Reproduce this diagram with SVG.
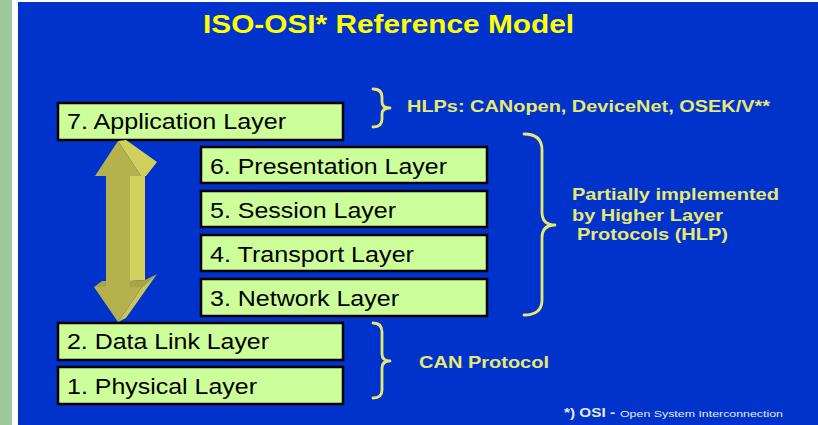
<svg xmlns="http://www.w3.org/2000/svg" width="818" height="425" viewBox="0 0 818 425">
  <style>
    .layer rect { fill: #ccff99; stroke: #000000; stroke-width: 2.5; }
    .layer text { font-family: "Liberation Sans", Arial, sans-serif; font-size: 22px; fill: #000000; }
    .title { font-family: "Liberation Sans", Arial, sans-serif; font-weight: bold; font-size: 25px; fill: #ffff00; }
    .note { font-family: "Liberation Sans", Arial, sans-serif; font-weight: bold; font-size: 17px; fill: #e8e870; }
    .brace { fill: none; stroke: #e8e870; stroke-width: 2.8; stroke-linecap: round; stroke-linejoin: round; }
    .foot { font-family: "Liberation Sans", Arial, sans-serif; fill: #e6e8f4; }
  </style>

  <!-- slide frame -->
  <rect x="0" y="0" width="818" height="425" fill="#ffffff"/>
  <rect x="0" y="0" width="12" height="425" fill="#9dc89a"/>
  <rect x="18" y="2" width="800" height="423" fill="#0033cc"/>

  <text class="title" x="203" y="33" textLength="371" lengthAdjust="spacingAndGlyphs">ISO-OSI* Reference Model</text>

  <!-- layer stack -->
  <g id="layer7" class="layer">
    <rect x="58" y="103" width="285" height="37"/>
    <text x="67" y="129" textLength="219" lengthAdjust="spacingAndGlyphs">7. Application Layer</text>
  </g>
  <g id="layer6" class="layer">
    <rect x="201" y="147" width="286" height="36"/>
    <text x="210" y="174" textLength="237" lengthAdjust="spacingAndGlyphs">6. Presentation Layer</text>
  </g>
  <g id="layer5" class="layer">
    <rect x="201" y="191" width="286" height="36"/>
    <text x="210" y="217.5" textLength="186" lengthAdjust="spacingAndGlyphs">5. Session Layer</text>
  </g>
  <g id="layer4" class="layer">
    <rect x="201" y="235" width="286" height="36"/>
    <text x="210" y="262" textLength="204" lengthAdjust="spacingAndGlyphs">4. Transport Layer</text>
  </g>
  <g id="layer3" class="layer">
    <rect x="201" y="279" width="286" height="37"/>
    <text x="210" y="306" textLength="189" lengthAdjust="spacingAndGlyphs">3. Network Layer</text>
  </g>
  <g id="layer2" class="layer">
    <rect x="58" y="323" width="285" height="37"/>
    <text x="67" y="349" textLength="202" lengthAdjust="spacingAndGlyphs">2. Data Link Layer</text>
  </g>
  <g id="layer1" class="layer">
    <rect x="58" y="367" width="285" height="37"/>
    <text x="67" y="394" textLength="190" lengthAdjust="spacingAndGlyphs">1. Physical Layer</text>
  </g>

  <!-- 3D double arrow between application and data link layer -->
  <g id="connectors">
    <polygon points="118,141 126,140 157,162 146,176 141,176" fill="#d2d05c"/>
    <polygon points="130,176 145,176 145,280 130,281" fill="#d4d25e"/>
    <polygon points="130,287 130,281 145,280 157,274 142,287" fill="#a9a547"/>
    <polygon points="94,287 102,281 106,281 106,287" fill="#a9a547"/>
    <polygon points="142,287 157,274 126,318 118,322" fill="#c9c657"/>
    <polygon points="118,141 95,176 106,176 106,287 94,287 118,322 142,287 130,287 130,176 141,176" fill="#b5b14c"/>
  </g>

  <!-- braces with their notes -->
  <g id="hlp-note">
    <path class="brace" d="M373,89 Q382,89 382,97 L382,102 Q382,108 390,108 Q382,108 382,114 L382,119 Q382,127 373,127"/>
    <text class="note" x="407" y="112" textLength="363" lengthAdjust="spacingAndGlyphs">HLPs: CANopen, DeviceNet, OSEK/V**</text>
  </g>
  <g id="partial-note">
    <path class="brace" d="M524,134 Q542,134 542,150 L542,212 Q542,225 555,225 Q542,225 542,238 L542,300 Q542,315 524,315"/>
    <text class="note" x="572" y="200" textLength="207" lengthAdjust="spacingAndGlyphs">Partially implemented</text>
    <text class="note" x="572" y="220.5" textLength="151" lengthAdjust="spacingAndGlyphs">by Higher Layer</text>
    <text class="note" x="577" y="240" textLength="151" lengthAdjust="spacingAndGlyphs">Protocols (HLP)</text>
  </g>
  <g id="can-note">
    <path class="brace" d="M373,323 Q382,323 382,332 L382,354 Q382,361 390,361 Q382,361 382,368 L382,390 Q382,398 373,398"/>
    <text class="note" x="419" y="368" textLength="130" lengthAdjust="spacingAndGlyphs">CAN Protocol</text>
  </g>

  <!-- footnote -->
  <text class="foot" x="564" y="417" font-weight="bold" font-size="12.5" textLength="51" lengthAdjust="spacingAndGlyphs">*) OSI -</text>
  <text class="foot" x="620" y="417" font-size="9.5" textLength="163" lengthAdjust="spacingAndGlyphs">Open System Interconnection</text>
</svg>
